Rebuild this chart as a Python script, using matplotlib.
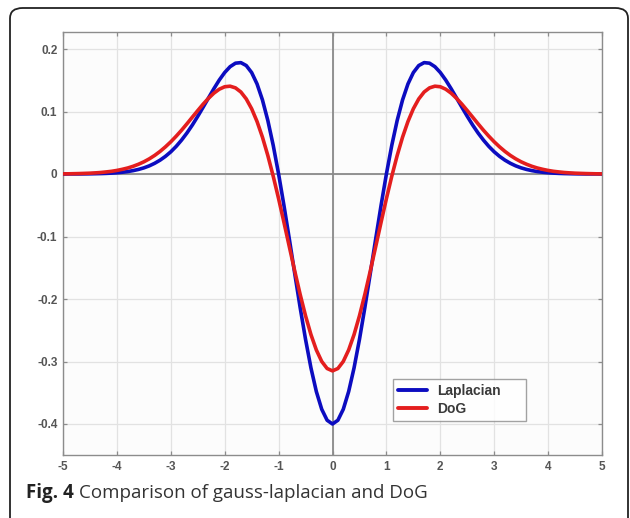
import numpy as np
import matplotlib
matplotlib.use("Agg")
import matplotlib.pyplot as plt
from matplotlib.patches import FancyBboxPatch

# ---- data (curves are symmetric about x = 0) ----
x_half = [0.0, 0.1, 0.2, 0.3, 0.4, 0.5, 0.6, 0.7, 0.8, 0.9,
          1.0, 1.1, 1.2, 1.3, 1.4, 1.5, 1.6, 1.7, 1.8, 1.9,
          2.0, 2.1, 2.2, 2.3, 2.4, 2.5, 2.6, 2.7, 2.8, 2.9,
          3.0, 3.1, 3.2, 3.3, 3.4, 3.5, 3.6, 3.7, 3.8, 3.9,
          4.0, 4.1, 4.2, 4.3, 4.4, 4.5, 4.6, 4.7, 4.8, 4.9, 5.0]
laplacian_half = [-0.4000, -0.3940, -0.3764, -0.3480, -0.3102, -0.2647, -0.2138, -0.1597, -0.1046, -0.0507,
                  0.0000, 0.0459, 0.0857, 0.1186, 0.1441, 0.1623, 0.1735, 0.1782, 0.1773, 0.1717,
                  0.1624, 0.1504, 0.1366, 0.1218, 0.1069, 0.0923, 0.0784, 0.0657, 0.0543, 0.0442,
                  0.0355, 0.0282, 0.0221, 0.0171, 0.0130, 0.0098, 0.0073, 0.0054, 0.0039, 0.0028,
                  0.0020, 0.0014, 0.0010, 0.0007, 0.0005, 0.0003, 0.0002, 0.0001, 0.0001, 0.0001, 0.0000]
dog_half = [-0.3150, -0.3112, -0.2999, -0.2815, -0.2569, -0.2269, -0.1927, -0.1555, -0.1168, -0.0777,
            -0.0395, -0.0035, 0.0296, 0.0590, 0.0840, 0.1044, 0.1201, 0.1312, 0.1378, 0.1405,
            0.1396, 0.1357, 0.1294, 0.1212, 0.1118, 0.1015, 0.0910, 0.0804, 0.0701, 0.0605,
            0.0515, 0.0434, 0.0361, 0.0297, 0.0242, 0.0195, 0.0156, 0.0123, 0.0096, 0.0075,
            0.0057, 0.0043, 0.0033, 0.0024, 0.0018, 0.0013, 0.0010, 0.0007, 0.0005, 0.0003, 0.0002]

x_ticks = [-5, -4, -3, -2, -1, 0, 1, 2, 3, 4, 5]
y_ticks = [-0.4, -0.3, -0.2, -0.1, 0, 0.1, 0.2]
y_tick_labels = ["-0.4", "-0.3", "-0.2", "-0.1", "0", "0.1", "0.2"]
series_names = ["Laplacian", "DoG"]
caption_bold = "Fig. 4"
caption_text = "Comparison of gauss-laplacian and DoG"

xh = np.array(x_half)
xs = np.concatenate([-xh[::-1], xh[1:]])
lap = np.concatenate([np.array(laplacian_half)[::-1], np.array(laplacian_half)[1:]])
dog = np.concatenate([np.array(dog_half)[::-1], np.array(dog_half)[1:]])

W, H = 630, 518
fig = plt.figure(figsize=(W/100, H/100), dpi=100)
fig.patch.set_facecolor("white")

# rounded frame
frame = FancyBboxPatch((10/W, -20/H), 618/W, 530/H,
                       boxstyle="round,pad=0,rounding_size=0.02",
                       transform=fig.transFigure, fill=False,
                       edgecolor="#222222", linewidth=1.3, clip_on=False)
fig.add_artist(frame)

ax = fig.add_axes([63/W, 1-455/H, (602-63)/W, (455-32)/H])
ax.set_facecolor("#fcfcfc")
ax.plot(xs, lap, color="#0c0cc0", lw=2.6, solid_capstyle="round", zorder=3, label=series_names[0])
ax.plot(xs, dog, color="#e41e1e", lw=2.6, solid_capstyle="round", zorder=4, label=series_names[1])
ax.set_xlim(-5, 5)
ax.set_ylim(-0.4496, 0.2272)
ax.set_xticks(x_ticks)
ax.set_yticks(y_ticks)
ax.set_xticklabels([str(v) for v in x_ticks])
ax.set_yticklabels(y_tick_labels)
ax.grid(True, color="#e2e2e2", lw=0.9)
ax.set_axisbelow(True)
ax.axhline(0, color="#8a8a8a", lw=1.3, zorder=2)
ax.axvline(0, color="#8a8a8a", lw=1.3, zorder=2)
for sp in ax.spines.values():
    sp.set_color("#8c8c8c")
    sp.set_linewidth(1.0)
ax.tick_params(direction="in", length=3, width=0.9, color="#8c8c8c",
               top=True, right=True, labelsize=8.5, labelcolor="#555555", pad=4)
for lab in ax.get_xticklabels() + ax.get_yticklabels():
    lab.set_fontfamily("Liberation Sans")
    lab.set_fontweight("bold")

leg = ax.legend(loc="lower left",
                bbox_to_anchor=((393-63)/539, (455-421)/423, (526-393)/539, (421-377)/423),
                mode="expand", frameon=True, fancybox=False, handlelength=2.1,
                borderpad=0.35, labelspacing=0.3, handletextpad=0.7, borderaxespad=0,
                prop={"family": "Liberation Sans", "weight": "bold", "size": 10})
leg.get_frame().set_edgecolor("#8c8c8c")
leg.get_frame().set_linewidth(1.0)
leg._legend_box.align = "left"
for t in leg.get_texts():
    t.set_color("#3a3a3a")
for h in leg.legend_handles:
    h.set_linewidth(2.8)

# caption
t1 = fig.text(26/W, 1-498/H, caption_bold, fontfamily="Open Sans", fontweight="bold",
              fontsize=13.5, color="#222222", va="baseline")
fig.canvas.draw()
bb = t1.get_window_extent()
fig.text(bb.x1/W + 5/W, 1-498/H, caption_text, fontfamily="Open Sans",
         fontsize=13.5, color="#333333", va="baseline")

fig.savefig("out.png", dpi=100)
